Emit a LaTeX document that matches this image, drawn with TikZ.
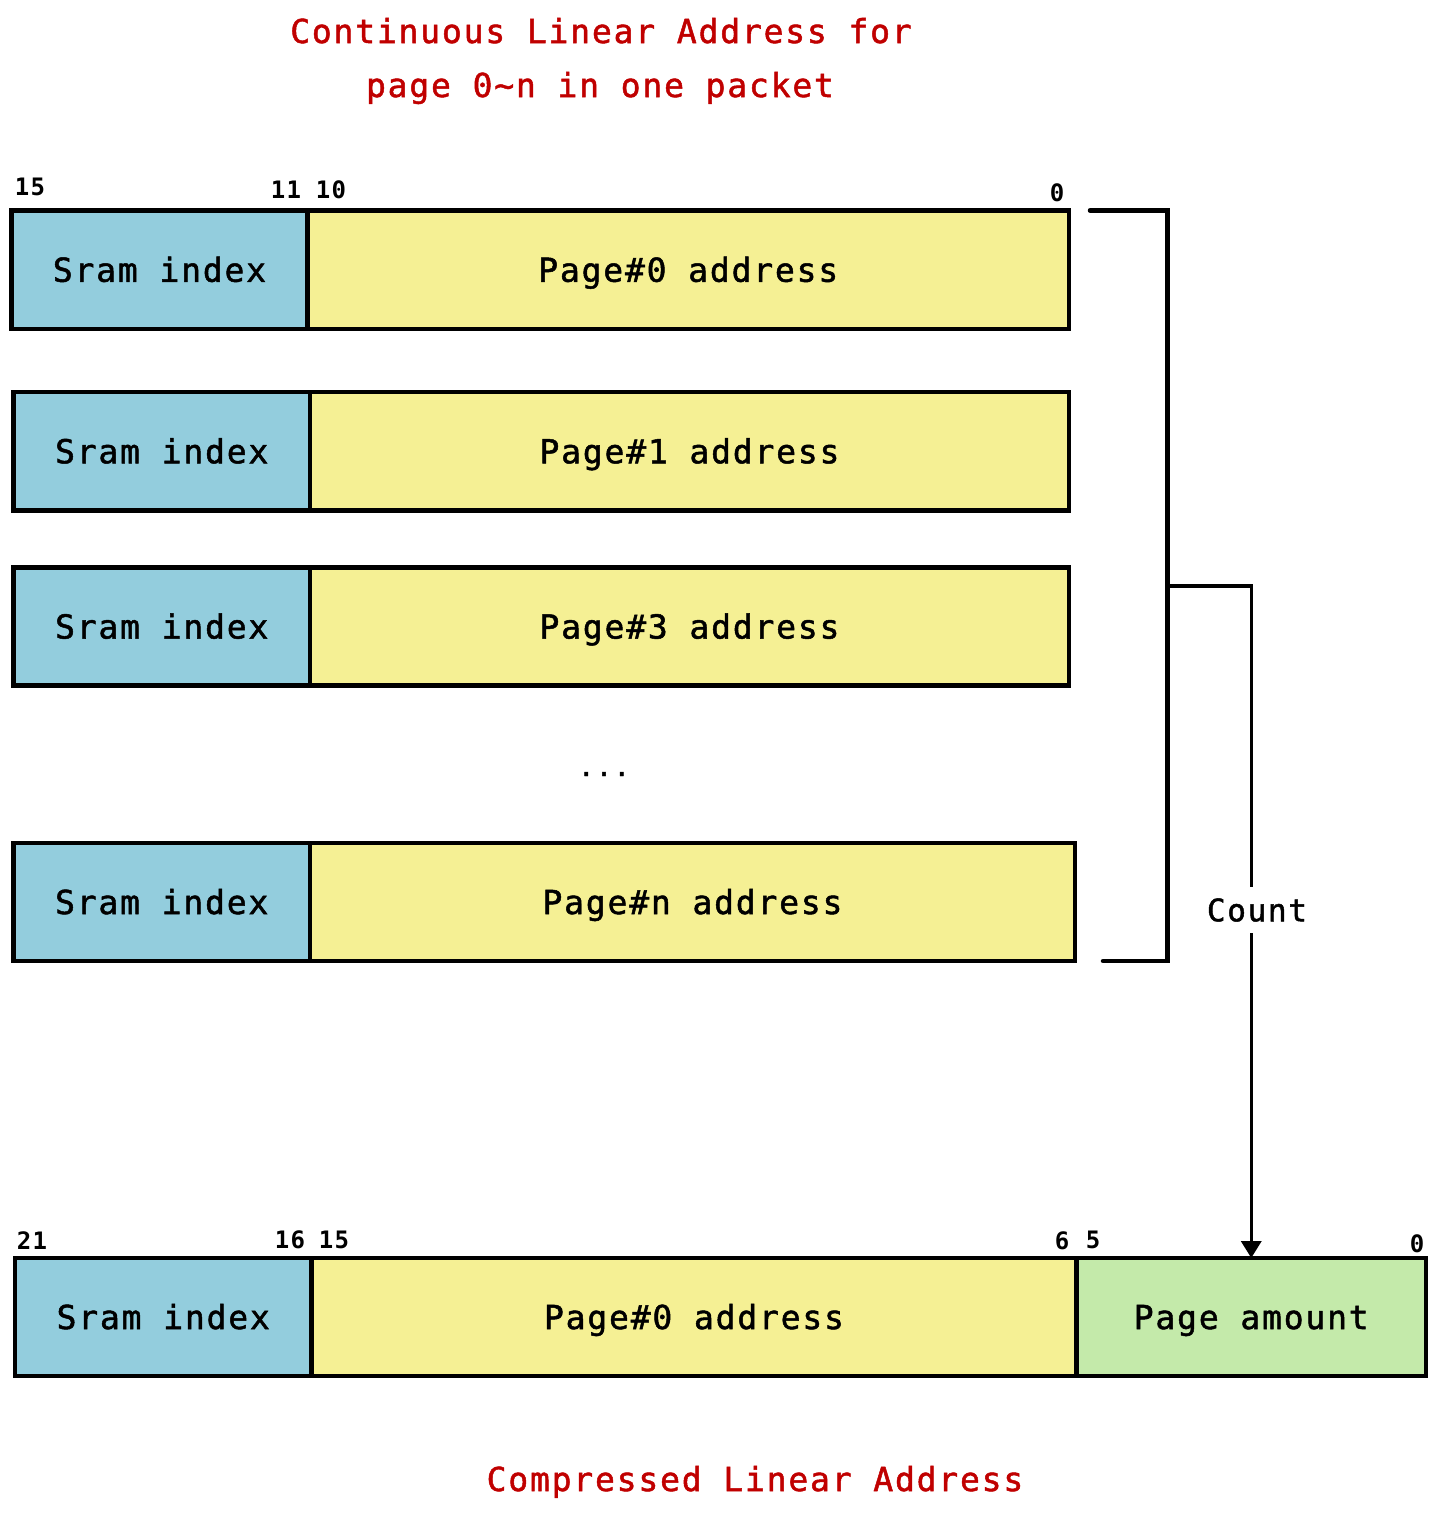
\documentclass[tikz,border=0pt]{standalone}
\usepackage{fontspec}
\setmonofont[LetterSpace=5.5]{DejaVu Sans Mono}
\newfontfamily\labelfont[LetterSpace=5.5,FakeBold=1.5]{DejaVu Sans Mono}
\usetikzlibrary{arrows.meta}
\definecolor{sramblue}{RGB}{147,205,221}
\definecolor{pageyellow}{RGB}{245,240,148}
\definecolor{amountgreen}{RGB}{196,234,170}
\definecolor{titlered}{RGB}{192,0,0}
\tikzstyle{field}=[draw,line width=4.5pt,inner sep=0pt,outer sep=0pt,anchor=north west,text height=24pt,text depth=0pt,font=\labelfont\fontsize{33}{40}\selectfont]
\tikzstyle{sramfield}=[field,fill=sramblue]
\tikzstyle{pagefield}=[field,fill=pageyellow]
\tikzstyle{amountfield}=[field,fill=amountgreen]
\tikzstyle{bitno}=[inner sep=0pt,font=\ttfamily\bfseries\fontsize{24}{28}\selectfont]
\tikzstyle{caption}=[inner sep=0pt,anchor=base,text=titlered,font=\labelfont\fontsize{33}{40}\selectfont]
\tikzstyle{bracket}=[line width=4.5pt,line cap=round]
\tikzstyle{countarrow}=[line width=3.5pt,-{Triangle[width=20pt,length=17pt]}]
\newcommand{\drawfield}[7]{
% name, style, left, right, top, bottom, text
\node[#2,minimum width={(#4-#3)*1pt},minimum height={(#6-#5)*1pt}] (#1) at (#3,#5) {#7};
}

\begin{document}
\begin{tikzpicture}[x=1pt,y=-1pt]
  \useasboundingbox (0,0) rectangle (1440,1519);
  % titles
  \node[caption] (title1) at (601,43) {Continuous Linear Address for};
  \node[caption] (title2) at (600,97) {page 0\char`~n in one packet};
  \node[caption] (title3) at (755,1491) {Compressed Linear Address};
  % pages in one packet
  \foreach \n/\l/\d/\r/\t/\b/\txt in {0/11.5/307.5/1069/210.5/329/Page\#0 address,
                                     1/13.5/310/1069/392/510.5/Page\#1 address,
                                     3/13.5/310/1069/567.5/685.5/Page\#3 address,
                                     n/13.5/310/1075/843/961/Page\#n address} {
    \drawfield{sram\n}{sramfield}{\l}{\d}{\t}{\b}{Sram index}
    \drawfield{page\n}{pagefield}{\d}{\r}{\t}{\b}{\txt}
  }
  \node[inner sep=0pt,font=\labelfont\fontsize{27}{32}\selectfont] (dots) at (604,774) {...};
  \node[bitno] (b15) at (30,187) {15};
  \node[bitno] (b11) at (286,190) {11};
  \node[bitno] (b10) at (331,190) {10};
  \node[bitno] (b0) at (1057,193) {0};
  % compressed address
  \drawfield{csram}{sramfield}{15}{311.5}{1258}{1376}{Sram index}
  \drawfield{cpage}{pagefield}{311.5}{1076.5}{1258}{1376}{Page\#0 address}
  \drawfield{amount}{amountfield}{1076.5}{1426}{1258}{1376}{Page amount}
  \node[bitno] (c21) at (32,1241) {21};
  \node[bitno] (c16) at (290,1240) {16};
  \node[bitno] (c15) at (334,1240) {15};
  \node[bitno] (c6) at (1062,1241) {6};
  \node[bitno] (c5) at (1093,1240) {5};
  \node[bitno] (c0) at (1417,1244) {0};
  % bracket and count
  \coordinate (brtop) at (1090,210.5);
  \coordinate (brtr) at (1167.5,210.5);
  \coordinate (brbr) at (1167.5,961);
  \coordinate (brbot) at (1103,961);
  \coordinate (brmid) at (1167.5,586);
  \draw[bracket] (brtop) -- (brtr) -- (brbr) -- (brbot);
  \draw[countarrow] (brmid) -| (amount.north);
  \node[fill=white,inner xsep=2pt,inner ysep=11pt,font=\labelfont\fontsize{31}{36}\selectfont] (count) at (1257,910) {Count};
\end{tikzpicture}
\end{document}
